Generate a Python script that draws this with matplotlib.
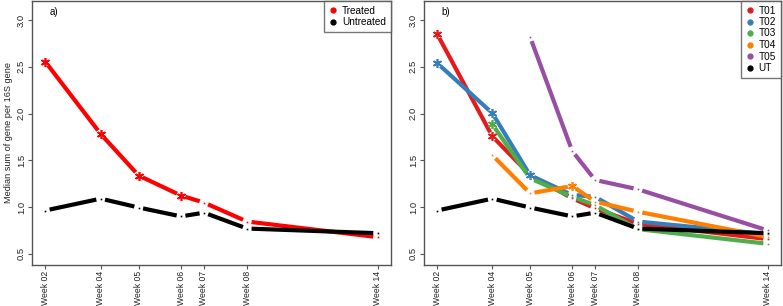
import matplotlib
matplotlib.use("Agg")
import matplotlib.pyplot as plt
import numpy as np

plt.rcParams['font.family'] = ['Liberation Sans', 'DejaVu Sans']

# ---- data ----
week_labels = ["Week 02", "Week 04", "Week 05", "Week 06", "Week 07", "Week 08", "Week 14"]
week_pos = [0, 14, 23.6, 34.3, 40.1, 51, 84]

treated = [2.555, 1.782, 1.337, 1.123, 1.048, 0.845, 0.678]
treated_sig = [True, True, True, True, False, False, False]
untreated = [0.963, 1.09, 0.995, 0.90, 0.94, 0.77, 0.72]

t01 = [2.85, 1.757, 1.342, 1.094, 0.987, 0.82, 0.657]
t02 = [2.54, 2.005, 1.34, 1.13, 1.11, 0.845, 0.71]
t03 = [None, 1.885, 1.307, 1.11, 1.02, 0.764, 0.607]
t04 = [None, 1.555, 1.147, 1.225, 1.058, 0.95, 0.68]
t05 = [None, None, 2.82, 1.60, 1.29, 1.19, 0.75]
ut = [0.963, 1.09, 0.995, 0.90, 0.94, 0.77, 0.72]

t01_sig = [True, True, False, False, False, False, False]
t02_sig = [True, True, True, False, False, False, False]
t03_sig = [False, True, False, False, False, False, False]
t04_sig = [False, False, False, True, False, False, False]
t05_sig = [False] * 7
ut_sig = [False] * 7

W, H = 783, 306
fig = plt.figure(figsize=(W / 100, H / 100), dpi=100)

def make_ax(left_px, right_px, top_px, bottom_px):
    return fig.add_axes([left_px / W, 1 - bottom_px / H,
                         (right_px - left_px) / W, (bottom_px - top_px) / H])

ax_a = make_ax(32, 391, 0.5, 265)
ax_b = make_ax(424, 781, 0.5, 265)

def draw_series(ax, xs, ys, sig, color):
    pts = [(x, y, s) for x, y, s in zip(xs, ys, sig) if y is not None]
    for (x0, y0, _), (x1, y1, _) in zip(pts[:-1], pts[1:]):
        ax.annotate('', xy=(x1, y1), xytext=(x0, y0),
                    arrowprops=dict(arrowstyle='-', color=color, lw=3.0,
                                    shrinkA=3.2, shrinkB=3.2,
                                    capstyle='butt'))
    for x, y, s in pts:
        if s:
            ax.plot([x], [y], marker=(6, 2, 0), ms=6.5, mew=1.2,
                    color=color, ls='none', zorder=5)
        else:
            ax.plot([x], [y], marker='s', ms=1.2, mew=0,
                    color=color, ls='none', zorder=5)

def style_ax(ax):
    ax.set_xlim(-3.36, 87.36)
    ax.set_ylim(0.38, 3.21)
    ax.set_xticks(week_pos)
    ax.set_xticklabels(week_labels, rotation=90, fontsize=6.2)
    ax.set_yticks([0.5, 1.0, 1.5, 2.0, 2.5, 3.0])
    ax.set_yticklabels(["0.5", "1.0", "1.5", "2.0", "2.5", "3.0"],
                       rotation=90, fontsize=6.8, va='center')
    for sp in ax.spines.values():
        sp.set_color('#555555')
        sp.set_linewidth(1.0)
    ax.tick_params(axis='both', length=3.2, width=0.8, color='#555555',
                   pad=1.2, labelcolor='#222222')

# panel a
draw_series(ax_a, week_pos, treated, treated_sig, '#FF0000')
draw_series(ax_a, week_pos, untreated, [False] * 7, '#000000')
style_ax(ax_a)
ax_a.set_ylabel("Median sum of gene per 16S gene", fontsize=6.6, labelpad=3,
                color='#222222')
ax_a.text(0.048, 0.955, "a)", transform=ax_a.transAxes, fontsize=7,
          ha='left', va='center')
ha = [plt.Line2D([], [], marker='o', ls='none', color=c, ms=3.5)
      for c in ['#FF0000', '#000000']]
leg = ax_a.legend(ha, ["Treated", "Untreated"], loc='upper right',
                  bbox_to_anchor=(1.0, 1.0), borderaxespad=0, fontsize=7.2,
                  frameon=True, fancybox=False, handlelength=0.8,
                  handletextpad=0.5, labelspacing=0.15, borderpad=0.5)
leg.get_frame().set_edgecolor('#555555')
leg.get_frame().set_linewidth(1.0)

# panel b
series_b = [("T01", t01, t01_sig, '#E41A1C'),
            ("T02", t02, t02_sig, '#377EB8'),
            ("T03", t03, t03_sig, '#4DAF4A'),
            ("T04", t04, t04_sig, '#FF7F00'),
            ("T05", t05, t05_sig, '#984EA3'),
            ("UT", ut, ut_sig, '#000000')]
for name, vals, sg, col in series_b:
    draw_series(ax_b, week_pos, vals, sg, col)
style_ax(ax_b)
ax_b.text(0.048, 0.955, "b)", transform=ax_b.transAxes, fontsize=7,
          ha='left', va='center')
hb = [plt.Line2D([], [], marker='o', ls='none', color=c, ms=3.5)
      for _, _, _, c in series_b]
legb = ax_b.legend(hb, [s[0] for s in series_b], loc='upper right',
                   bbox_to_anchor=(1.0, 1.0), borderaxespad=0, fontsize=7.2,
                   frameon=True, fancybox=False, handlelength=0.8,
                   handletextpad=0.5, labelspacing=0.15, borderpad=0.5)
legb.get_frame().set_edgecolor('#555555')
legb.get_frame().set_linewidth(1.0)

fig.savefig("out.png", dpi=100)
